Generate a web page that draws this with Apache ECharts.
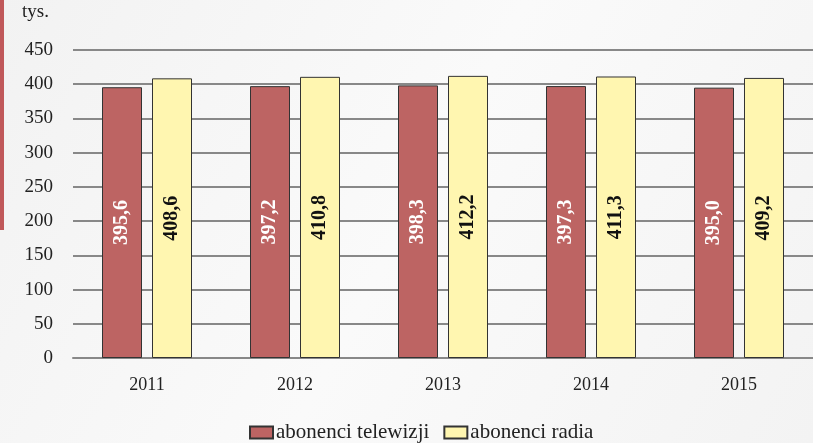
<!DOCTYPE html>
<html><head><meta charset="utf-8">
<script src="https://cdn.jsdelivr.net/npm/echarts@6/dist/echarts.min.js"></script>
<style>html,body{margin:0;padding:0;background:#f5f5f5}#c{width:813px;height:443px}</style>
</head><body><div id="c"></div>
<script>
const categories = ['2011','2012','2013','2014','2015'];
const tvValues = [395.6, 397.2, 398.3, 397.3, 395.0];
const radioValues = [408.6, 410.8, 412.2, 411.3, 409.2];
const seriesNames = ['abonenci telewizji','abonenci radia'];
const yTicks = [0,50,100,150,200,250,300,350,400,450];
const unitLabel = 'tys.';

const fmt = v => v.toFixed(1).replace('.', ',');
const font = '"Liberation Serif", "Times New Roman", serif';
const chart = echarts.init(document.getElementById('c'));
chart.setOption({
  backgroundColor: {type:'linear',x:0,y:0,x2:1,y2:1,colorStops:[{offset:0,color:'#f2f2f2'},{offset:0.5,color:'#fafafa'},{offset:1,color:'#f3f3f3'}]},
  animation: false,
  graphic: [
    {type:'rect', shape:{x:0,y:0,width:4,height:230}, style:{fill:'#c0585a'}},
    {type:'text', left:22, top:3, style:{text:unitLabel, font:'19px '+font, fill:'#222'}}
  ],
  grid: {left:73, right:0, top:50, bottom:85, containLabel:false},
  legend: {
    top: 417, left: 244, itemWidth: 23, itemHeight: 12, itemGap: 14,
    textStyle: {fontFamily: font, fontSize: 21, color:'#222', padding:[0,0,0,-2]},
    data: seriesNames,
    icon: 'rect'
  },
  xAxis: {
    type:'category', data: categories,
    axisLine:{lineStyle:{color:'#888', width:2}},
    axisTick:{show:false},
    axisLabel:{fontFamily:font, fontSize:18, color:'#222', margin:18}
  },
  yAxis: {
    type:'value', min: yTicks[0], max: yTicks[yTicks.length-1], interval: 50,
    axisLine:{show:false}, axisTick:{show:false},
    axisLabel:{fontFamily:font, fontSize:19, color:'#222', margin:20},
    splitLine:{lineStyle:{color:'#888', width:2}}
  },
  series: [
    {name: seriesNames[0], type:'bar', data: tvValues, barWidth: 40, barGap: '25%',
     itemStyle:{color:'#bd6463', borderColor:'#333', borderWidth:1},
     label:{show:true, position:'inside', rotate:90, formatter: p=>fmt(p.value),
       fontFamily:font, fontSize:20, fontWeight:'bold', color:'#fff'}},
    {name: seriesNames[1], type:'bar', data: radioValues, barWidth: 40,
     itemStyle:{color:'#fff6b0', borderColor:'#333', borderWidth:1},
     label:{show:true, position:'inside', rotate:90, formatter: p=>fmt(p.value),
       fontFamily:font, fontSize:20, fontWeight:'bold', color:'#111'}}
  ]
});
</script></body></html>
